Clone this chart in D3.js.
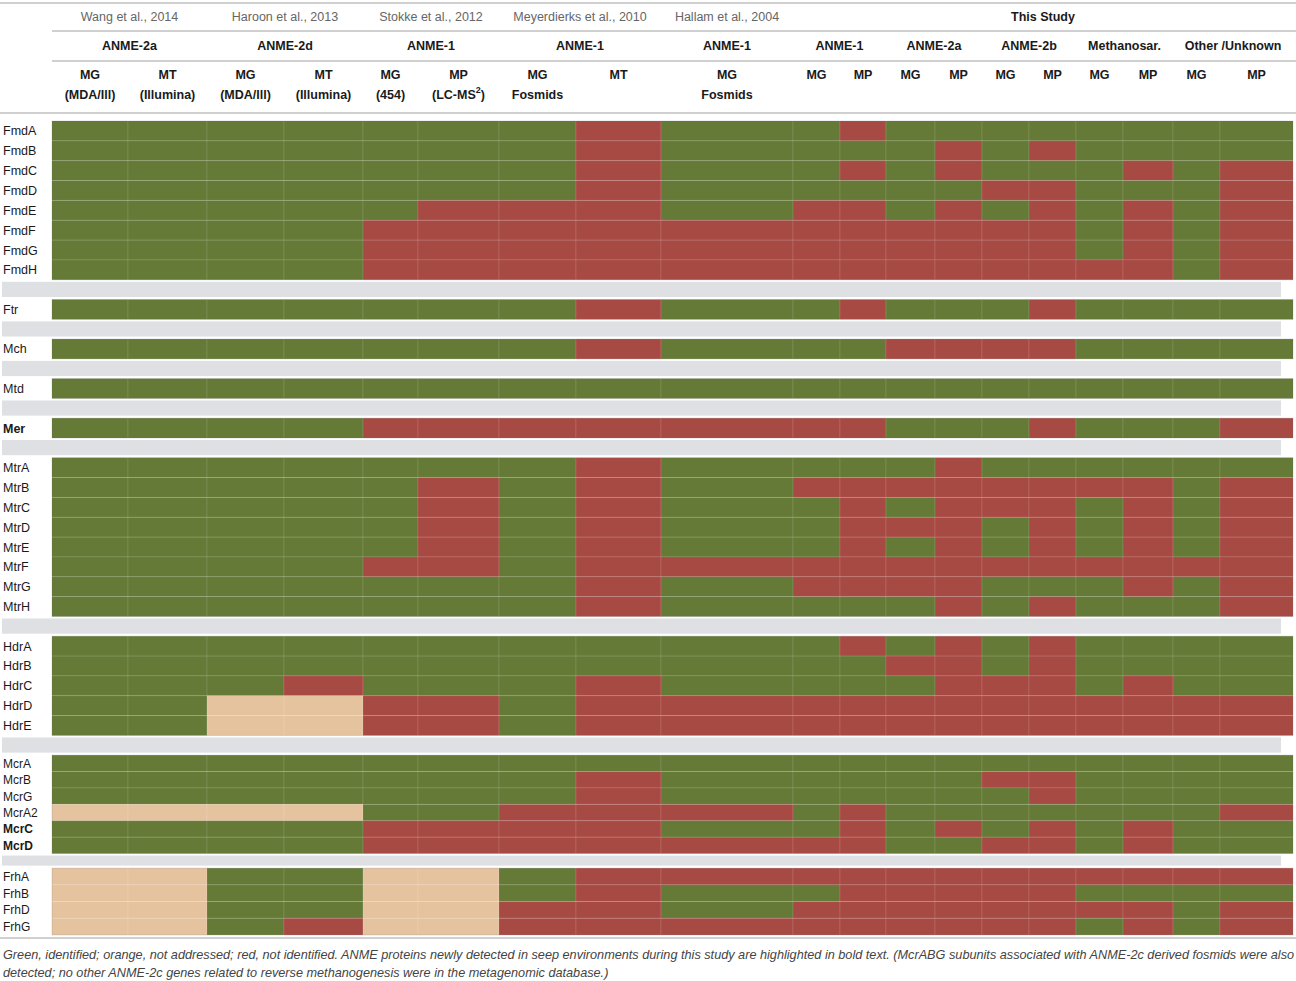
<!DOCTYPE html>
<html>
<head>
<meta charset="utf-8">
<script src="https://cdn.jsdelivr.net/npm/d3@7"></script>
<style>
  html, body { margin: 0; padding: 0; background: #fff; }
  svg { display: block; font-family: "Liberation Sans", Arial, sans-serif; }
</style>
</head>
<body>
<svg id="chart" width="1296" height="981"></svg>
<script>
// ---- data ----
// G = identified, O = not addressed, R = not identified
const studies = ["Wang et al., 2014", "Haroon et al., 2013", "Stokke et al., 2012",
  "Meyerdierks et al., 2010", "Hallam et al., 2004", "This Study"];
const studySpan = [[0, 1], [2, 3], [4, 5], [6, 7], [8, 8], [9, 18]];

const lineages = ["ANME-2a", "ANME-2d", "ANME-1", "ANME-1", "ANME-1",
  "ANME-1", "ANME-2a", "ANME-2b", "Methanosar.", "Other /Unknown"];
const lineageSpan = [[0, 1], [2, 3], [4, 5], [6, 7], [8, 8],
  [9, 10], [11, 12], [13, 14], [15, 16], [17, 18]];

const methods = ["MG", "MT", "MG", "MT", "MG", "MP", "MG", "MT", "MG",
  "MG", "MP", "MG", "MP", "MG", "MP", "MG", "MP", "MG", "MP"];
const methodNotes = ["(MDA/Ill)", "(Illumina)", "(MDA/Ill)", "(Illumina)", "(454)", "(LC-MS2)",
  "Fosmids", "", "Fosmids", "", "", "", "", "", "", "", "", "", ""];

const fmdGenes = ["FmdA", "FmdB", "FmdC", "FmdD", "FmdE", "FmdF", "FmdG", "FmdH"];
const fmdStatus = ["GGGGGGGRGGRGGGGGGGG", "GGGGGGGRGGGGRGRGGGG", "GGGGGGGRGGRGRGGGRGR",
  "GGGGGGGRGGGGGRRGGGR", "GGGGGRRRGRRGRGRGRGR", "GGGGRRRRRRRRRRRGRGR",
  "GGGGRRRRRRRRRRRGRGR", "GGGGRRRRRRRRRRRRRGR"];
const ftrGenes = ["Ftr"];
const ftrStatus = ["GGGGGGGRGGRGGGRGGGG"];
const mchGenes = ["Mch"];
const mchStatus = ["GGGGGGGRGGGRRRRGGGG"];
const mtdGenes = ["Mtd"];
const mtdStatus = ["GGGGGGGGGGGGGGGGGGG"];
const merGenes = ["Mer"];
const merStatus = ["GGGGRRRRRRRGGGRGGGR"];
const mtrGenes = ["MtrA", "MtrB", "MtrC", "MtrD", "MtrE", "MtrF", "MtrG", "MtrH"];
const mtrStatus = ["GGGGGGGRGGGGRGGGGGG", "GGGGGRGRGRRRRRRRRGR", "GGGGGRGRGGRGRRRGRGR",
  "GGGGGRGRGGRRRGRGRGR", "GGGGGRGRGGRGRGRGRGR", "GGGGRRGRRRRRRRRRRRR",
  "GGGGGGGRGRRRRGGGRGR", "GGGGGGGRGGGGRGRGGGR"];
const hdrGenes = ["HdrA", "HdrB", "HdrC", "HdrD", "HdrE"];
const hdrStatus = ["GGGGGGGGGGRGRGRGGGG", "GGGGGGGGGGGRRGRGGGG", "GGGRGGGRGGGGRRRGRGG",
  "GGOORRGRRRRRRRRRRRR", "GGOORRGRRRRRRRRRRRR"];
const mcrGenes = ["McrA", "McrB", "McrG", "McrA2", "McrC", "McrD"];
const mcrStatus = ["GGGGGGGGGGGGGGGGGGG", "GGGGGGGRGGGGGRRGGGG", "GGGGGGGRGGGGGGRGGGG",
  "OOOOGGRRRGRGGGGGGGR", "GGGGRRRRGGRGRGRGRGG", "GGGGRRRRRRRGGRRGRGG"];
const frhGenes = ["FrhA", "FrhB", "FrhD", "FrhG"];
const frhStatus = ["OOGGOOGRRRRRRRRRRRR", "OOGGOOGRGGRRRRRGGGG", "OOGGOORRGRRRRRRRRGR",
  "OOGROORRRRRRRRRGRGR"];

const boldGenes = ["Mer", "McrC", "McrD"];

const caption = [
  "Green, identified; orange, not addressed; red, not identified. ANME proteins newly detected in seep environments during this study are highlighted in bold text. (McrABG subunits associated with ANME-2c derived fosmids were also",
  "detected; no other ANME-2c genes related to reverse methanogenesis were in the metagenomic database.)"
];

// ---- layout ----
const colUnits = [76, 79, 77, 79, 55, 81, 77, 85, 132, 47, 46, 49, 47, 47, 47, 47, 50, 47, 73];
const colEdge = [0];
colUnits.forEach(u => colEdge.push(colEdge[colEdge.length - 1] + u));
const x = d3.scaleLinear().domain([0, colEdge[colEdge.length - 1]]).range([52, 1293]);
const colLeft = c => x(colEdge[c]);
const colRight = c => x(colEdge[c + 1]);

const groups = [
  { genes: fmdGenes, status: fmdStatus, h: 19.85 },
  { genes: ftrGenes, status: ftrStatus, h: 19.85 },
  { genes: mchGenes, status: mchStatus, h: 19.85 },
  { genes: mtdGenes, status: mtdStatus, h: 19.85 },
  { genes: merGenes, status: merStatus, h: 19.85 },
  { genes: mtrGenes, status: mtrStatus, h: 19.85 },
  { genes: hdrGenes, status: hdrStatus, h: 19.85 },
  { genes: mcrGenes, status: mcrStatus, h: 16.4 },
  { genes: frhGenes, status: frhStatus, h: 16.7 }
];
const gapH = [19.7, 19.7, 19.7, 19.7, 19.7, 19.7, 19.7, 14.6];

const fill = d3.scaleOrdinal().domain(["G", "O", "R"]).range(["#657a36", "#e5c39f", "#a84a44"]);

// build rows with y positions
let yCur = 121;
const rows = [];
const bands = [];
groups.forEach((g, gi) => {
  const y0 = yCur;
  g.genes.forEach((gene, i) => {
    rows.push({ gene, codes: g.status[i].split(""), y: yCur, h: g.h });
    yCur += g.h;
  });
  g.y0 = y0; g.y1 = yCur;
  if (gi < gapH.length) {
    bands.push({ y: yCur + 2, h: gapH[gi] - 4.5 });
    yCur += gapH[gi];
  }
});

const svg = d3.select("#chart");
const lineColor = "#d0d0d0";

// ---- header rules ----
const rules = [[0, 3], [52, 31], [52, 61], [0, 113], [0, 938]];
svg.append("g").selectAll("line").data(rules).join("line")
  .attr("x1", d => d[0]).attr("x2", 1296)
  .attr("y1", d => d[1]).attr("y2", d => d[1])
  .attr("stroke", lineColor).attr("stroke-width", 2);

// study names
svg.append("g").selectAll("text").data(studies).join("text")
  .attr("x", (d, i) => (colLeft(studySpan[i][0]) + colRight(studySpan[i][1])) / 2)
  .attr("y", 17)
  .attr("text-anchor", "middle").attr("dominant-baseline", "central")
  .attr("font-size", 12.5)
  .attr("fill", d => d === "This Study" ? "#1a1a1a" : "#666")
  .attr("font-weight", d => d === "This Study" ? "bold" : "normal")
  .text(d => d);

// lineage names
svg.append("g").selectAll("text").data(lineages).join("text")
  .attr("x", (d, i) => (colLeft(lineageSpan[i][0]) + colRight(lineageSpan[i][1])) / 2)
  .attr("y", 46)
  .attr("text-anchor", "middle").attr("dominant-baseline", "central")
  .attr("font-size", 12.5).attr("font-weight", "bold").attr("fill", "#1a1a1a")
  .text(d => d);

// method labels
svg.append("g").selectAll("text").data(methods).join("text")
  .attr("x", (d, i) => (colLeft(i) + colRight(i)) / 2)
  .attr("y", 75)
  .attr("text-anchor", "middle").attr("dominant-baseline", "central")
  .attr("font-size", 12.5).attr("font-weight", "bold").attr("fill", "#1a1a1a")
  .text(d => d);

const notes = svg.append("g").selectAll("text").data(methodNotes).join("text")
  .attr("x", (d, i) => (colLeft(i) + colRight(i)) / 2)
  .attr("y", 95)
  .attr("text-anchor", "middle").attr("dominant-baseline", "central")
  .attr("font-size", 12.5).attr("font-weight", "bold").attr("fill", "#1a1a1a");
notes.each(function(d) {
  const t = d3.select(this);
  if (d.endsWith("2)")) {
    t.append("tspan").text(d.slice(0, -2));
    t.append("tspan").attr("font-size", 9).attr("dy", -5).text("2");
    t.append("tspan").attr("dy", 5).text(")");
  } else {
    t.text(d);
  }
});

// ---- separator bands ----
svg.append("g").selectAll("rect").data(bands).join("rect")
  .attr("x", 2).attr("width", 1279)
  .attr("y", d => d.y).attr("height", d => d.h)
  .attr("fill", "#dfe0e4");

// ---- cells ----
const cells = [];
rows.forEach(r => r.codes.forEach((c, ci) => cells.push({ code: c, col: ci, y: r.y, h: r.h })));
svg.append("g").selectAll("rect").data(cells).join("rect")
  .attr("x", d => colLeft(d.col))
  .attr("width", d => colRight(d.col) - colLeft(d.col))
  .attr("y", d => d.y).attr("height", d => d.h)
  .attr("fill", d => fill(d.code))
  .attr("stroke", "rgba(255,255,255,0.1)").attr("stroke-width", 1);

// section outlines (slightly darker edge)
svg.append("g").selectAll("rect").data(groups).join("rect")
  .attr("x", x(0)).attr("width", x.range()[1] - x(0))
  .attr("y", d => d.y0).attr("height", d => d.y1 - d.y0)
  .attr("fill", "none").attr("stroke", "rgba(0,0,0,0.12)").attr("stroke-width", 1);

// ---- row labels ----
svg.append("g").selectAll("text").data(rows).join("text")
  .attr("x", 3)
  .attr("y", d => d.y + d.h / 2 + 0.5)
  .attr("dominant-baseline", "central")
  .attr("font-size", d => d.h < 18 ? 12 : 12.5)
  .attr("font-weight", d => boldGenes.includes(d.gene) ? "bold" : "normal")
  .attr("fill", "#1a1a1a")
  .text(d => d.gene);

// ---- caption ----
svg.append("g").selectAll("text").data(caption).join("text")
  .attr("x", 3)
  .attr("y", (d, i) => 955 + i * 18)
  .attr("dominant-baseline", "central")
  .attr("font-size", 12.7).attr("font-style", "italic").attr("fill", "#444")
  .text(d => d);
</script>
</body>
</html>
